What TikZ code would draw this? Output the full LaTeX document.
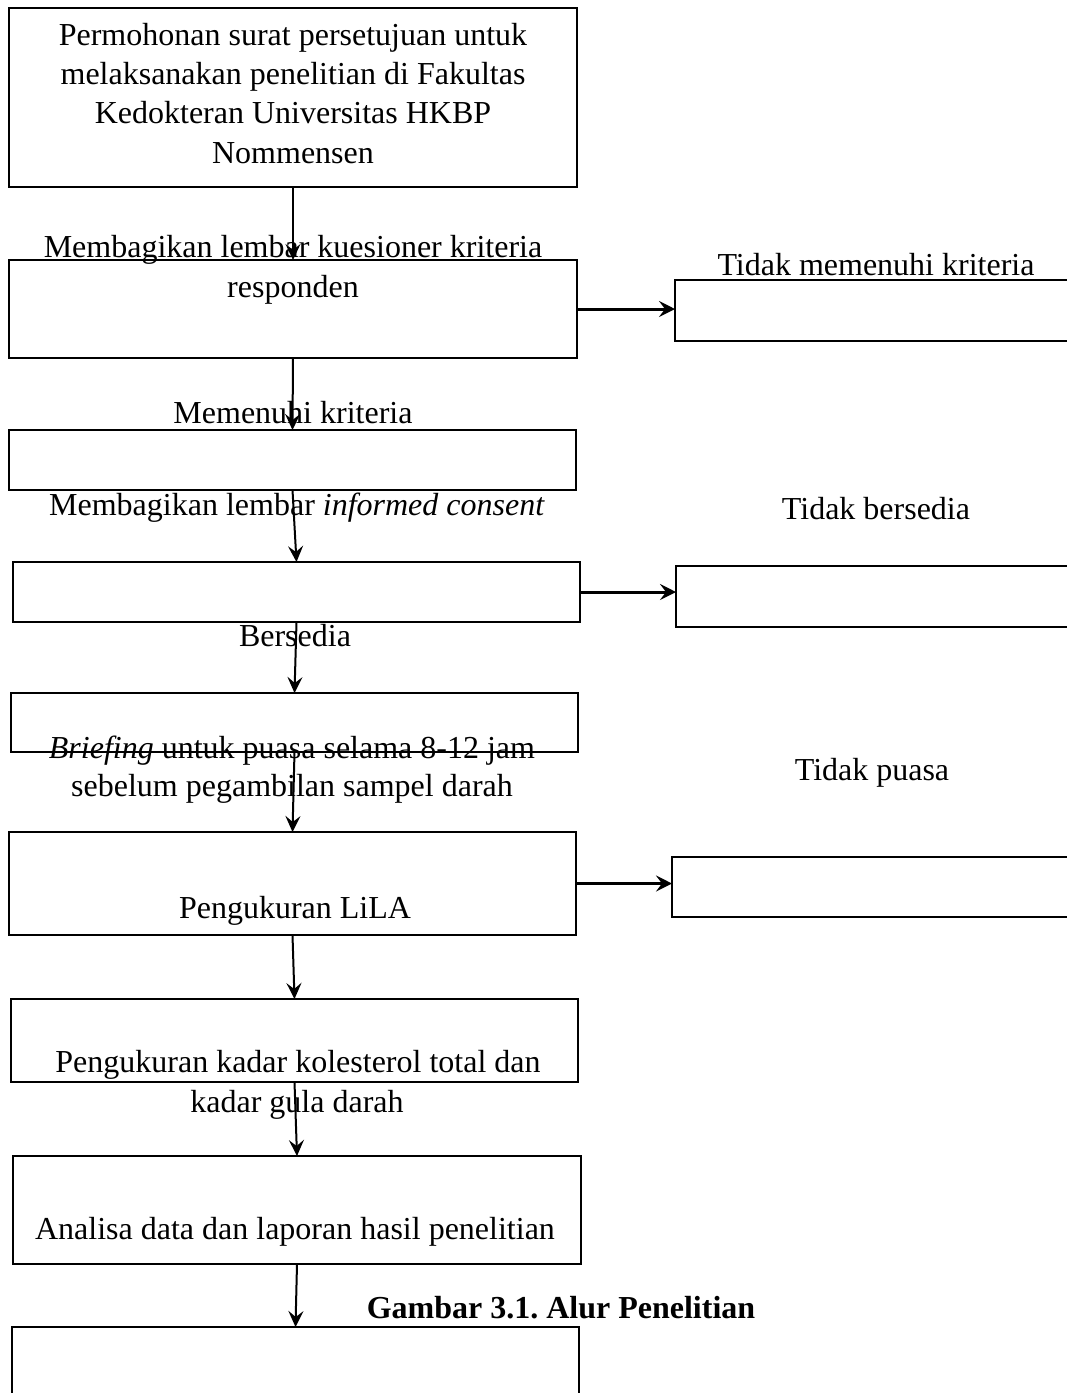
\documentclass[tikz,border=0pt]{standalone}
\usepackage{fontspec}
\setmainfont{Liberation Serif}
\usetikzlibrary{arrows.meta}
\frenchspacing
\begin{document}
\begin{tikzpicture}[x=1pt,y=-1pt,
  box/.style={draw, line width=2.5pt, rectangle, anchor=north west, inner sep=0pt, outer sep=0pt},
  lbl/.style={anchor=base, inner sep=0pt, font=\fontsize{32}{39}\selectfont},
  arr/.style={-{Stealth[length=16pt,width=15pt,inset=6pt]}, line width=2pt},
  harr/.style={-{Stealth[length=16pt,width=16pt,inset=6pt]}, line width=3pt}]
\useasboundingbox (0,0) rectangle (1067,1393);
\clip (0,0) rectangle (1067,1393);
% boxes
\node[box, minimum width=568pt, minimum height=179pt] (b1) at (9,8) {};
\node[box, minimum width=568pt, minimum height=98pt] (b2) at (9,260) {};
\node[box, minimum width=567pt, minimum height=60pt] (b3) at (9,430) {};
\node[box, minimum width=567pt, minimum height=60pt] (b4) at (13,562) {};
\node[box, minimum width=567pt, minimum height=59pt] (b5) at (11,693) {};
\node[box, minimum width=567pt, minimum height=103pt] (b6) at (9,832) {};
\node[box, minimum width=567pt, minimum height=83pt] (b7) at (11,999) {};
\node[box, minimum width=568pt, minimum height=108pt] (b8) at (13,1156) {};
\node[box, minimum width=567pt, minimum height=120pt] (b9) at (12,1327) {};
\node[box, minimum width=450pt, minimum height=61pt] (r1) at (675,280) {};
\node[box, minimum width=450pt, minimum height=61pt] (r2) at (676,566) {};
\node[box, minimum width=450pt, minimum height=60pt] (r3) at (672,857) {};
% connectors
\draw[arr] (b1.south) -- (b2.north);
\draw[arr] (b2.south) -- (b3.north);
\draw[arr] (b3.south) -- (b4.north);
\draw[arr] (b4.south) -- (b5.north);
\draw[arr] (b5.south) -- (b6.north);
\draw[arr] (b6.south) -- (b7.north);
\draw[arr] (b7.south) -- (b8.north);
\draw[arr] (b8.south) -- (b9.north);
\draw[harr] (b2.east) -- (b2.east -| r1.west);
\draw[harr] (b4.east) -- (b4.east -| r2.west);
\draw[harr] (b6.east) -- (b6.east -| r3.west);
% labels
\node[lbl] (t1a) at (293,45) {Permohonan surat persetujuan untuk};
\node[lbl] (t1b) at (293,84) {melaksanakan penelitian di Fakultas};
\node[lbl] (t1c) at (293,123) {Kedokteran Universitas HKBP};
\node[lbl] (t1d) at (293,163) {Nommensen};
\node[lbl] (t2a) at (293,257) {Membagikan lembar kuesioner kriteria};
\node[lbl] (t2b) at (293,297) {responden};
\node[lbl] (tr1) at (876,275) {Tidak memenuhi kriteria};
\node[lbl] (t3) at (293,423) {Memenuhi kriteria};
\node[lbl] (t4) at (297,515) {Membagikan lembar \textit{informed consent}};
\node[lbl] (tr2) at (876,519) {Tidak bersedia};
\node[lbl] (t5) at (295,646) {Bersedia};
\node[lbl] (t6a) at (292,758) {\textit{Briefing} untuk puasa selama 8-12 jam};
\node[lbl] (t6b) at (292,796) {sebelum pegambilan sampel darah};
\node[lbl] (tr3) at (872,780) {Tidak puasa};
\node[lbl] (t7) at (295,918) {Pengukuran LiLA};
\node[lbl] (t8a) at (298,1072) {Pengukuran kadar kolesterol total dan};
\node[lbl] (t8b) at (297,1112) {kadar gula darah};
\node[lbl] (t9) at (295,1239) {Analisa data dan laporan hasil penelitian};
\node[lbl, font=\fontsize{32}{39}\selectfont\bfseries] (cap) at (561,1318) {Gambar 3.1. Alur Penelitian};
\end{tikzpicture}
\end{document}
